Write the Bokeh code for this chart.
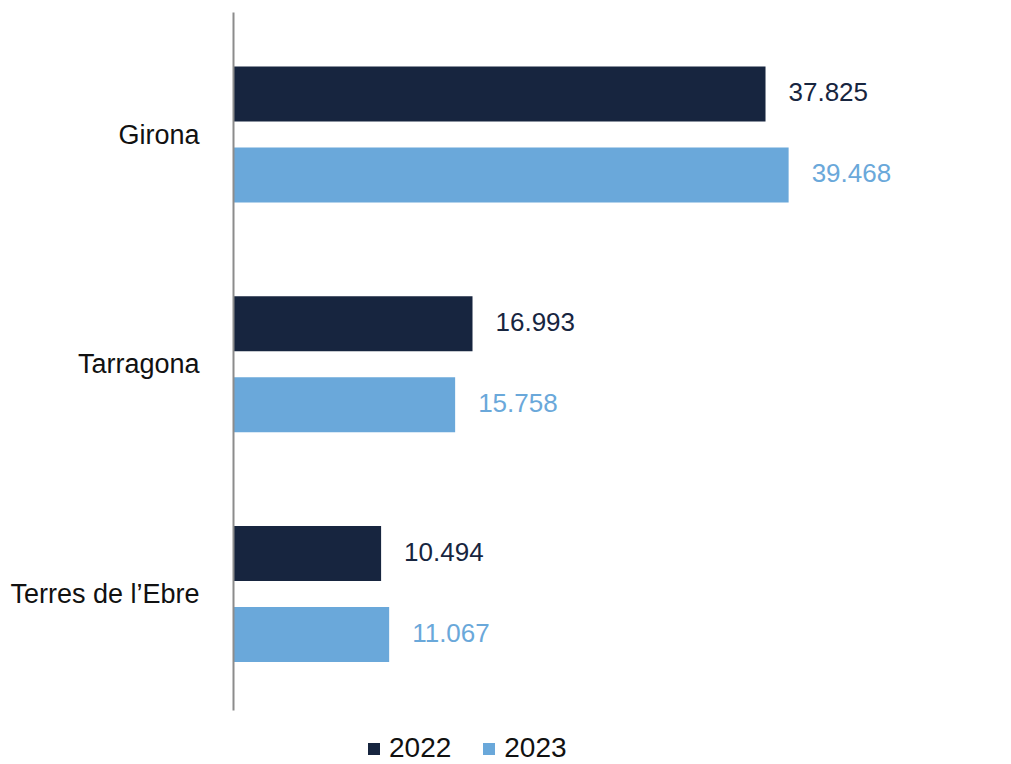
from bokeh.plotting import figure
from bokeh.models import ColumnDataSource, Range1d, Legend, LegendItem, FixedTicker
from bokeh.transform import dodge
from bokeh.core.properties import value
from bokeh.embed import file_html
from bokeh.resources import INLINE

# ---- data ----
categories = ["Terres de l\u2019Ebre", "Tarragona", "Girona"]  # bottom to top
values_2022 = [10494, 16993, 37825]
values_2023 = [11067, 15758, 39468]
labels_2022 = ["10.494", "16.993", "37.825"]
labels_2023 = ["11.067", "15.758", "39.468"]
series_names = ["2022", "2023"]

NAVY = "#17253F"
BLUE = "#6AA8DA"
FONT = "Liberation Sans"

positions = [i + 0.5 for i in range(len(categories))]

src = ColumnDataSource(dict(pos=positions, cat=categories, v22=values_2022, v23=values_2023,
                            l22=labels_2022, l23=labels_2023))

p = figure(width=1011, height=764,
           y_range=Range1d(-0.242, 3.031),
           x_range=Range1d(0, 51190),
           x_axis_location=None,
           output_backend="svg", toolbar_location=None,
           min_border_left=233, min_border_right=58,
           min_border_top=12, min_border_bottom=0)

p.outline_line_color = None
p.xgrid.visible = False
p.ygrid.visible = False
p.background_fill_color = "white"

off = 0.1763
bh = 0.2394
r22 = p.hbar(y=dodge("pos", off), right="v22", left=0, height=bh,
             source=src, fill_color=NAVY, line_color=None)
r23 = p.hbar(y=dodge("pos", -off), right="v23", left=0, height=bh,
             source=src, fill_color=BLUE, line_color=None)

p.text(x="v22", y=dodge("pos", off), text="l22", source=src,
       x_offset=23, y_offset=-2, text_align="left", text_baseline="middle",
       text_font=value(FONT), text_font_size="26px", text_color=NAVY)
p.text(x="v23", y=dodge("pos", -off), text="l23", source=src,
       x_offset=23, y_offset=-2, text_align="left", text_baseline="middle",
       text_font=value(FONT), text_font_size="26px", text_color=BLUE)

ax = p.yaxis[0]
ax.ticker = FixedTicker(ticks=positions)
ax.major_label_overrides = {pos: c for pos, c in zip(positions, categories)}
ax.bounds = (-0.007, 3.031)
ax.axis_line_color = "#8C8C8C"
ax.axis_line_width = 2
ax.major_tick_line_color = None
ax.minor_tick_line_color = None
ax.major_tick_out = 0
ax.major_label_standoff = 34
ax.major_label_text_font = FONT
ax.major_label_text_font_size = "27px"
ax.major_label_text_color = "#111111"

legend = Legend(items=[LegendItem(label=series_names[0], renderers=[r22]),
                       LegendItem(label=series_names[1], renderers=[r23])],
                orientation="horizontal", location=(133, 0),
                padding=0, margin=0, spacing=30, label_standoff=8,
                glyph_width=15, glyph_height=15,
                label_text_font=FONT, label_text_font_size="28px",
                label_text_color="#111111",
                border_line_color=None, background_fill_alpha=0)
p.add_layout(legend, "center")

open("out.html", "w").write(file_html(p, INLINE))
